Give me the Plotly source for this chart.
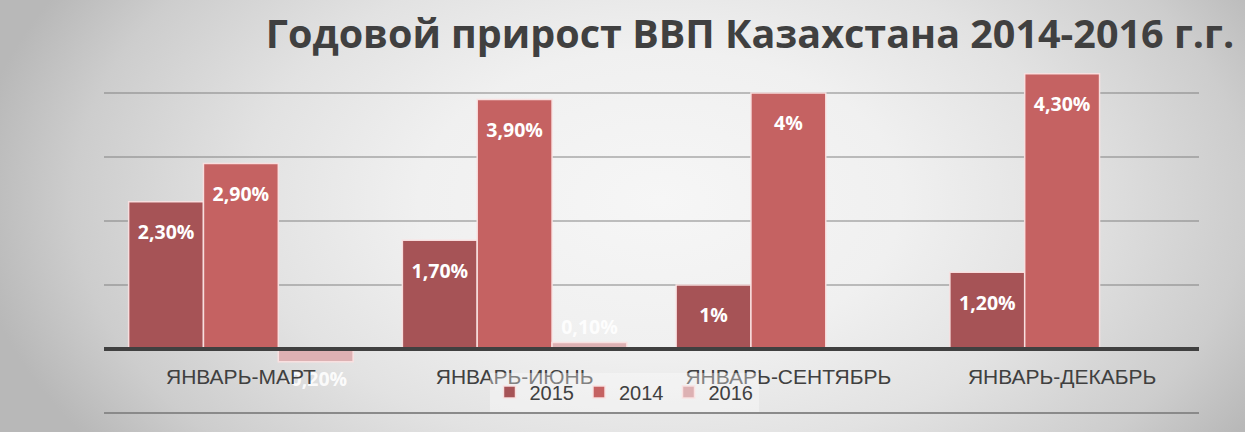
import base64
import plotly.graph_objects as go

categories = ["ЯНВАРЬ-МАРТ", "ЯНВАРЬ-ИЮНЬ", "ЯНВАРЬ-СЕНТЯБРЬ", "ЯНВАРЬ-ДЕКАБРЬ"]
series_names = ["2015", "2014", "2016"]
values_2015 = [2.3, 1.7, 1.0, 1.2]
values_2014 = [2.9, 3.9, 4.0, 4.3]
values_2016 = [-0.2, 0.1, None, None]
labels_2015 = ["2,30%", "1,70%", "1%", "1,20%"]
labels_2014 = ["2,90%", "3,90%", "4%", "4,30%"]
labels_2016 = ["-0,20%", "0,10%", "", ""]
title_text = "Годовой прирост ВВП Казахстана 2014-2016 г.г."

W, H = 1245, 432
ML, MR, MT, MB = 104, 46, 29, 19
PW, PH = W - ML - MR, H - MT - MB

colors = ["#A65356", "#C56262", "#DDB1B3"]
edge = "rgba(250,225,225,0.95)"

svg = f'''<svg xmlns="http://www.w3.org/2000/svg" width="{W}" height="{H}" viewBox="0 0 {W} {H}" preserveAspectRatio="none">
<defs><radialGradient id="g" gradientUnits="userSpaceOnUse" cx="660" cy="200" r="690"
 gradientTransform="translate(660,200) scale(1,0.62) translate(-660,-200)">
<stop offset="0" stop-color="#f6f6f6"/><stop offset="0.35" stop-color="#f0f0f0"/>
<stop offset="0.6" stop-color="#e2e2e2"/><stop offset="0.85" stop-color="#cdcdcd"/>
<stop offset="1" stop-color="#b8b8b8"/></radialGradient></defs>
<rect x="0" y="0" width="{W}" height="{H}" fill="url(#g)"/></svg>'''
bg_uri = "data:image/svg+xml;base64," + base64.b64encode(svg.encode()).decode()

label_font = dict(family="Open Sans", size=19.5, color="white", weight="bold")
spacer = "<span style='font-size:8px'>\u00a0</span><br>"

fig = go.Figure()
fig.add_trace(go.Bar(
    name=series_names[0], x=categories, y=values_2015,
    text=[spacer + t for t in labels_2015], texttemplate="%{text}",
    textposition="inside", insidetextanchor="end", textfont=label_font,
    marker=dict(color=colors[0], line=dict(color=edge, width=1.5)),
))
fig.add_trace(go.Bar(
    name=series_names[1], x=categories, y=values_2014,
    text=[spacer + t for t in labels_2014], texttemplate="%{text}",
    textposition="inside", insidetextanchor="end", textfont=label_font,
    marker=dict(color=colors[1], line=dict(color=edge, width=1.5)),
))
fig.add_trace(go.Bar(
    name=series_names[2], x=categories, y=values_2016,
    text=labels_2016, texttemplate="%{text}",
    textposition="outside",
    textfont=dict(family="Open Sans", size=19.5, color="rgba(255,255,255,0.9)", weight="bold"),
    marker=dict(color=colors[2], line=dict(color=edge, width=1.5)),
    cliponaxis=False,
))

fig.update_layout(
    width=W, height=H,
    margin=dict(l=ML, r=MR, t=MT, b=MB, pad=0),
    paper_bgcolor="#dcdcdc",
    plot_bgcolor="rgba(0,0,0,0)",
    barmode="group", bargap=0.18, bargroupgap=0,
    uniformtext=dict(minsize=19, mode="show"),
    title=dict(
        text=title_text, x=750 / W, xanchor="center", y=1 - 34 / H, yanchor="middle",
        yref="container",
        font=dict(family="Open Sans", size=39.5, color="#404040", weight="bold"),
    ),
    xaxis=dict(
        type="category", anchor="free", position=1 / 6,
        showline=True, linecolor="#404040", linewidth=4,
        showgrid=False, ticks="", ticklabelstandoff=8,
        tickfont=dict(family="Liberation Sans, Arial", size=21, color="#404040"),
    ),
    yaxis=dict(
        range=[-1, 5], dtick=1, showgrid=True, gridcolor="rgba(120,120,120,0.45)",
        gridwidth=2, zeroline=False, showticklabels=False, ticks="",
    ),
    legend=dict(
        orientation="h", x=(624 - ML) / PW, xanchor="center", y=21 / PH, yanchor="middle",
        bgcolor="rgba(255,255,255,0.35)",
        font=dict(family="Liberation Sans, Arial", size=20, color="#404040"),
        traceorder="normal",
    ),
    shapes=[dict(type="line", xref="paper", yref="paper", x0=0, x1=1, y0=0, y1=0,
                 line=dict(color="#8a8a8a", width=2), layer="below")],
    images=[dict(source=bg_uri, xref="paper", yref="paper",
                 x=-ML / PW, y=1 + MT / PH, sizex=W / PW, sizey=H / PH,
                 xanchor="left", yanchor="top", sizing="stretch", layer="below")],
    showlegend=True,
)

fig.write_html("out.html")
